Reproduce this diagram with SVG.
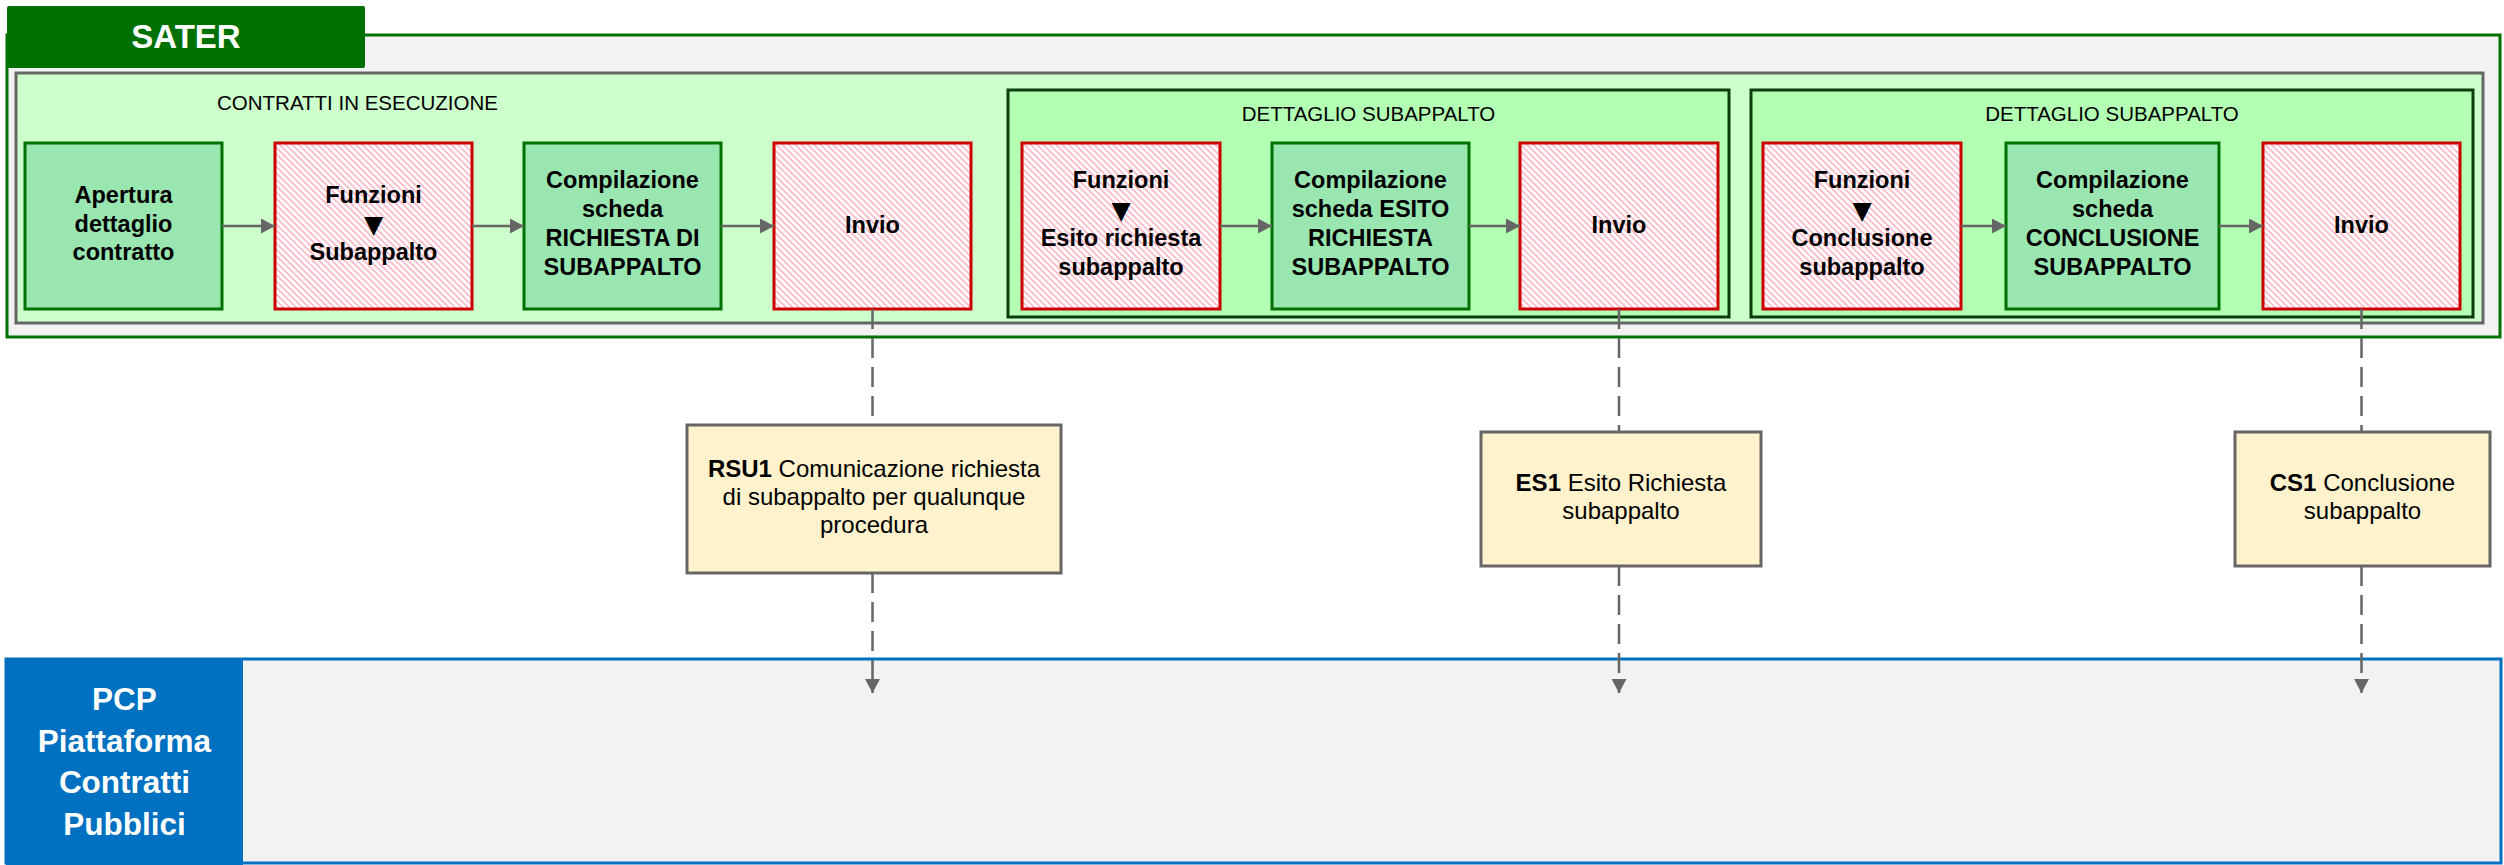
<svg xmlns="http://www.w3.org/2000/svg" width="2504" height="865" viewBox="0 0 2504 865">
<defs>
<style>
text{font-family:"Liberation Sans",Arial,sans-serif;fill:#000}
.bt{font-weight:bold;font-size:23.5px;text-anchor:middle}
.tri{font-family:"DejaVu Sans",sans-serif;font-size:25px;text-anchor:middle}
.lbl{font-size:20.5px}
.nt{font-size:24px;text-anchor:middle}
.wt{font-weight:bold;fill:#fff;text-anchor:middle}
.gbox{fill:#99e6b0;stroke:#007000;stroke-width:3}
.rbox{fill:url(#hatch);stroke:#cc0000;stroke-width:3}
.note{fill:#fff2cc;stroke:#666;stroke-width:3}
.det{fill:#b3ffb3;stroke:#0d3d0d;stroke-width:3}
.flow{stroke:#666;stroke-width:2.5;fill:none;marker-end:url(#ah)}
.dash{stroke:#666;stroke-width:2.5;fill:none;stroke-dasharray:20 9}
</style>
<pattern id="hatch" width="4.5" height="4.5" patternUnits="userSpaceOnUse" patternTransform="rotate(-45)">
<rect width="4.5" height="4.5" fill="#fff"/>
<line x1="1" y1="0" x2="1" y2="4.5" stroke="#ffb3c3" stroke-width="1.6"/>
</pattern>
<marker id="ah" markerUnits="userSpaceOnUse" markerWidth="16" markerHeight="16" refX="14" refY="7.5" orient="auto">
<path d="M0,0 L14,7.5 L0,15 z" fill="#666"/>
</marker>
</defs>

<g id="sater">
<rect x="7" y="35" width="2493" height="302" fill="#f2f2f2" stroke="#007000" stroke-width="3"/>
<rect x="7" y="6" width="358" height="62" rx="2" fill="#007000"/>
<text class="wt" x="186" y="48" font-size="33">SATER</text>
</g>

<g id="contratti">
<rect x="16" y="73" width="2467" height="250" fill="#ccffcc" stroke="#666" stroke-width="3"/>
<text class="lbl" x="217" y="110">CONTRATTI IN ESECUZIONE</text>
</g>

<g id="dettaglio1">
<rect class="det" x="1008" y="90" width="721" height="227"/>
<text class="lbl" x="1368.5" y="121" text-anchor="middle">DETTAGLIO SUBAPPALTO</text>
</g>
<g id="dettaglio2">
<rect class="det" x="1751" y="90" width="722" height="227"/>
<text class="lbl" x="2112" y="121" text-anchor="middle">DETTAGLIO SUBAPPALTO</text>
</g>

<g id="apertura">
<rect class="gbox" x="25" y="143" width="197" height="166"/>
<text class="bt" x="123.5" y="203">Apertura</text>
<text class="bt" x="123.5" y="232">dettaglio</text>
<text class="bt" x="123.5" y="260">contratto</text>
</g>
<g id="funzioni1">
<rect class="rbox" x="275" y="143" width="197" height="166"/>
<text class="bt" x="373.5" y="203">Funzioni</text>
<text class="tri" x="373.5" y="233">▼</text>
<text class="bt" x="373.5" y="260">Subappalto</text>
</g>
<g id="compilazione1">
<rect class="gbox" x="524" y="143" width="197" height="166"/>
<text class="bt" x="622.5" y="188">Compilazione</text>
<text class="bt" x="622.5" y="217">scheda</text>
<text class="bt" x="622.5" y="246">RICHIESTA DI</text>
<text class="bt" x="622.5" y="275">SUBAPPALTO</text>
</g>
<g id="invio1">
<rect class="rbox" x="774" y="143" width="197" height="166"/>
<text class="bt" x="872.5" y="233">Invio</text>
</g>

<g id="funzioni2">
<rect class="rbox" x="1022" y="143" width="198" height="166"/>
<text class="bt" x="1121" y="188">Funzioni</text>
<text class="tri" x="1121" y="219">▼</text>
<text class="bt" x="1121" y="246">Esito richiesta</text>
<text class="bt" x="1121" y="275">subappalto</text>
</g>
<g id="compilazione2">
<rect class="gbox" x="1272" y="143" width="197" height="166"/>
<text class="bt" x="1370.5" y="188">Compilazione</text>
<text class="bt" x="1370.5" y="217">scheda ESITO</text>
<text class="bt" x="1370.5" y="246">RICHIESTA</text>
<text class="bt" x="1370.5" y="275">SUBAPPALTO</text>
</g>
<g id="invio2">
<rect class="rbox" x="1520" y="143" width="198" height="166"/>
<text class="bt" x="1619" y="233">Invio</text>
</g>

<g id="funzioni3">
<rect class="rbox" x="1763" y="143" width="198" height="166"/>
<text class="bt" x="1862" y="188">Funzioni</text>
<text class="tri" x="1862" y="219">▼</text>
<text class="bt" x="1862" y="246">Conclusione</text>
<text class="bt" x="1862" y="275">subappalto</text>
</g>
<g id="compilazione3">
<rect class="gbox" x="2006" y="143" width="213" height="166"/>
<text class="bt" x="2112.5" y="188">Compilazione</text>
<text class="bt" x="2112.5" y="217">scheda</text>
<text class="bt" x="2112.5" y="246">CONCLUSIONE</text>
<text class="bt" x="2112.5" y="275">SUBAPPALTO</text>
</g>
<g id="invio3">
<rect class="rbox" x="2263" y="143" width="197" height="166"/>
<text class="bt" x="2361.5" y="233">Invio</text>
</g>

<g id="rsu1">
<rect class="note" x="687" y="425" width="374" height="148"/>
<text class="nt" x="874" y="477"><tspan font-weight="bold">RSU1</tspan> Comunicazione richiesta</text>
<text class="nt" x="874" y="505">di subappalto per qualunque</text>
<text class="nt" x="874" y="533">procedura</text>
</g>
<g id="es1">
<rect class="note" x="1481" y="432" width="280" height="134"/>
<text class="nt" x="1621" y="491"><tspan font-weight="bold">ES1</tspan> Esito Richiesta</text>
<text class="nt" x="1621" y="519">subappalto</text>
</g>
<g id="cs1">
<rect class="note" x="2235" y="432" width="255" height="134"/>
<text class="nt" x="2362.5" y="491"><tspan font-weight="bold">CS1</tspan> Conclusione</text>
<text class="nt" x="2362.5" y="519">subappalto</text>
</g>

<g id="pcp">
<rect x="6" y="659" width="2495" height="204" fill="#f2f2f2" stroke="#0070c0" stroke-width="3"/>
<rect x="6" y="659" width="237" height="206" fill="#0070c0"/>
<text class="wt" x="124.5" y="710" font-size="31.5">PCP</text>
<text class="wt" x="124.5" y="752" font-size="31.5">Piattaforma</text>
<text class="wt" x="124.5" y="793" font-size="31.5">Contratti</text>
<text class="wt" x="124.5" y="835" font-size="31.5">Pubblici</text>
</g>

<g id="connectors">
<path class="flow" d="M222,226 H275"/>
<path class="flow" d="M472,226 H524"/>
<path class="flow" d="M721,226 H774"/>
<path class="flow" d="M1220,226 H1272"/>
<path class="flow" d="M1469,226 H1520"/>
<path class="flow" d="M1961,226 H2006"/>
<path class="flow" d="M2219,226 H2263"/>
<path class="dash" d="M872.5,309 V425"/>
<path class="dash" d="M872.5,573 V693" style="marker-end:url(#ah)"/>
<path class="dash" d="M1619,309 V432"/>
<path class="dash" d="M1619,566 V693" style="marker-end:url(#ah)"/>
<path class="dash" d="M2361.5,309 V432"/>
<path class="dash" d="M2361.5,566 V693" style="marker-end:url(#ah)"/>
</g>
</svg>
